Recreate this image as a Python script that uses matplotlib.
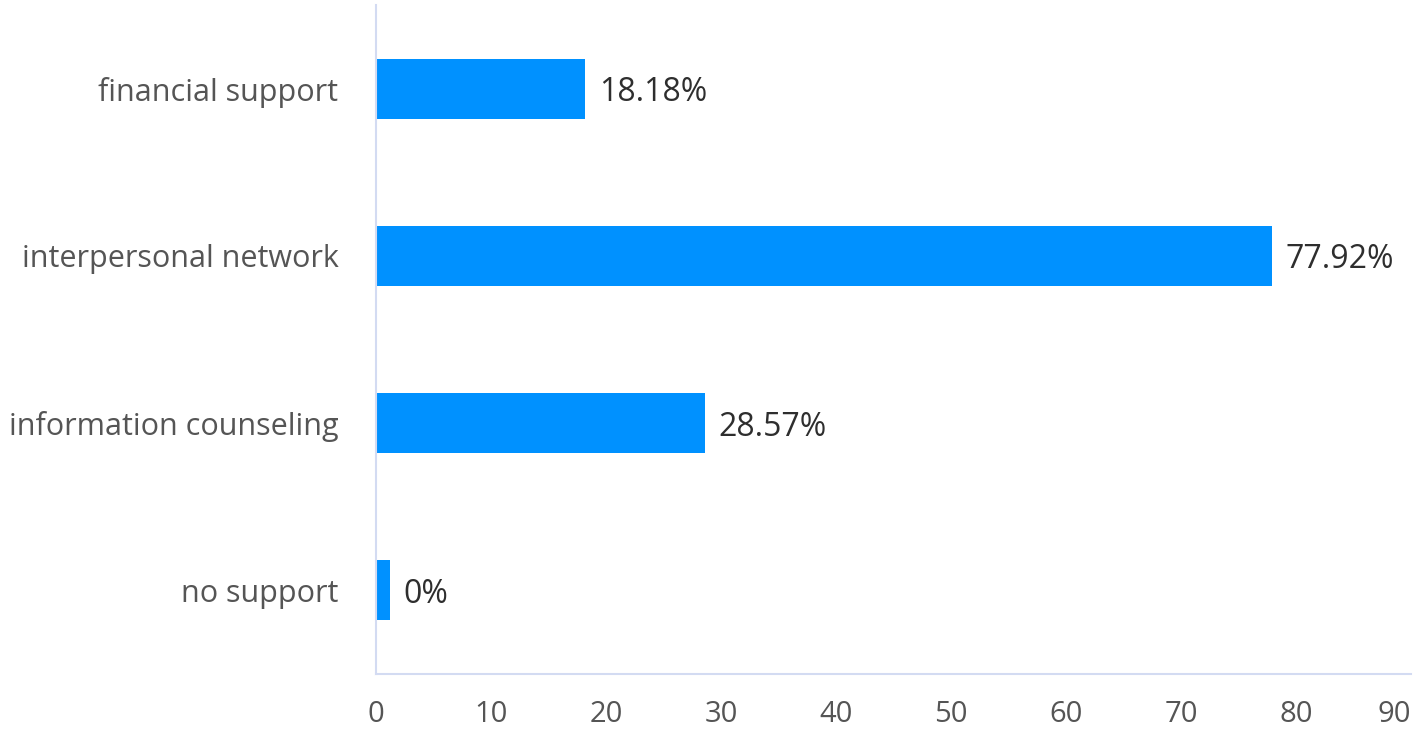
import matplotlib
matplotlib.use("Agg")
import matplotlib.pyplot as plt

categories = ["financial support", "interpersonal network", "information counseling", "no support"]
values = [18.18, 77.92, 28.57, 1.2]
value_labels = ["18.18%", "77.92%", "28.57%", "0%"]
xticks = [0, 10, 20, 30, 40, 50, 60, 70, 80, 90]

plt.rcParams['font.family'] = ['Open Sans', 'DejaVu Sans']

fig = plt.figure(figsize=(14.18, 7.30), dpi=100)
ax = fig.add_axes([376/1418, 1-674/730, (1411-376)/1418, (674-5)/730])

y = list(range(len(categories)))
ax.barh(y, values, height=0.36, color='#0091ff')
for yi, v, lab in zip(y, values, value_labels):
    ax.text(v + 1.2, yi, lab, va='center_baseline', ha='left', fontsize=23, color='#2e2e2e')

ax.set_ylim(3.5, -0.5)
ax.set_xlim(0, 90)
ax.set_xticks(xticks)
ax.set_xticklabels([str(t) for t in xticks])
ax.set_yticks(y)
ax.set_yticklabels(categories)
ax.tick_params(axis='x', length=0, labelsize=21, colors='#555555', pad=19)
ax.tick_params(axis='y', length=0, labelsize=22, colors='#555555', pad=27)
ax.get_xticklabels()[-1].set_horizontalalignment('right')
for s in ['top', 'right']:
    ax.spines[s].set_visible(False)
for s in ['left', 'bottom']:
    ax.spines[s].set_color('#d3dbf2')
    ax.spines[s].set_linewidth(1.5)

fig.savefig("out.png", dpi=100)
